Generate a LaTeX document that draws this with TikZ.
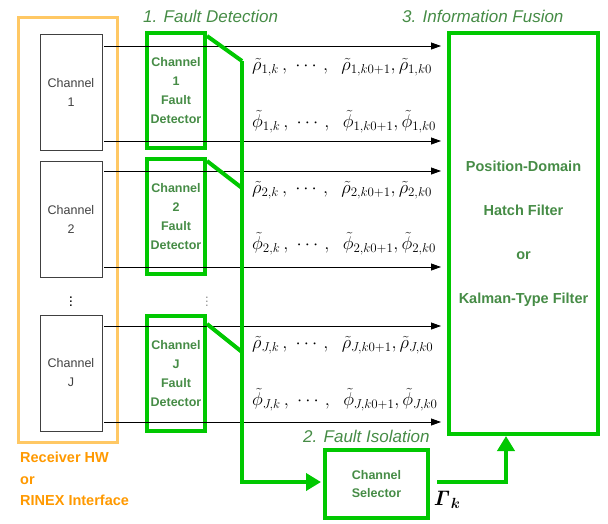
\RequirePackage{fix-cm}
\documentclass[tikz,border=0pt]{standalone}
\usepackage{amsmath}
\usepackage{amssymb}
\usepackage{bm}
\usepackage[no-math]{fontspec}
\setmainfont{Liberation Sans}
\usepackage{tikz}
\usetikzlibrary{arrows.meta,positioning}

\definecolor{boxgreen}{RGB}{0,200,0}
\definecolor{textgreen}{RGB}{70,140,70}
\definecolor{hwbox}{RGB}{255,200,100}
\definecolor{hwtext}{RGB}{255,153,0}
\definecolor{chanedge}{RGB}{64,64,64}

\begin{document}
\begin{tikzpicture}[
              x=1pt, y=-1pt,
              every node/.style={inner sep=0pt},
              chanbox/.style={draw=chanedge, line width=0.8pt, minimum width=62pt,
                minimum height=116pt, align=center, text=black!75,
                font=\fontsize{12.5}{19}\selectfont},
              detbox/.style={draw=boxgreen, line width=4pt, minimum width=58pt,
                minimum height=115pt, align=center, text=textgreen,
                font=\fontsize{12.5}{19}\selectfont\bfseries},
              stagelabel/.style={anchor=west, text=textgreen,
                font=\fontsize{17}{20}\selectfont\itshape},
              meas/.style={anchor=west, font=\fontsize{18.5}{20}\selectfont},
              sig/.style={line width=0.8pt, shorten >=6pt,
                -{Triangle[length=10pt,width=7pt]}},
              flag/.style={draw=boxgreen, line width=4pt},
              flagarrow/.style={flag, shorten >=2pt,
                -{Triangle[length=15pt,width=17pt]}}
            ]
            \useasboundingbox (0,0) rectangle (608,523);

            % Receiver hardware / RINEX side
            \node[draw=hwbox, line width=3pt, minimum width=99pt, minimum height=425pt] (hw) at (68,230) {};
            \node[anchor=north west, align=left, text=hwtext,
                  font=\fontsize{14.5}{21.5}\selectfont\bfseries] (hwlabel) at (20,452)
              {Receiver HW\\or\\RINEX Interface};

            \node[chanbox] (ch1) at (71,92) {Channel\\1};
            \node[chanbox] (ch2) at (71,219) {Channel\\2};
            \node[chanbox] (chJ) at (71,373) {Channel\\J};
            \node[font=\fontsize{15}{15}\selectfont] (chdots) at (71,299) {$\vdots$};

            % 1. fault detection per channel
            \node[stagelabel] (detlabel) at (143,16) {1. Fault Detection};
            \node[detbox] (det1) at (176,90.5) {Channel\\1\\Fault\\Detector};
            \node[detbox] (det2) at (176,216.5) {Channel\\2\\Fault\\Detector};
            \node[detbox] (detJ) at (176,373.5) {Channel\\J\\Fault\\Detector};
            \node[text=black!45, font=\fontsize{13}{13}\selectfont] (detdots) at (207,299) {$\vdots$};

            % 3. information fusion
            \node[stagelabel] (fuslabel) at (402,16) {3. Information Fusion};
            \node[draw=boxgreen, line width=4pt, minimum width=149pt, minimum height=401pt,
                  align=center, text=textgreen, font=\fontsize{14.5}{44}\selectfont\bfseries]
              (fusion) at (523.5,233.5)
              {Position-Domain\\Hatch Filter\\or\\Kalman-Type Filter};

            % 2. fault isolation
            \node[stagelabel] (isolabel) at (303,436) {2. Fault Isolation};
            \node[draw=boxgreen, line width=4pt, minimum width=103pt, minimum height=68pt,
                  align=center, text=textgreen, font=\fontsize{12.5}{18}\selectfont\bfseries]
              (selector) at (376.5,484) {Channel\\Selector};
            \node[font=\fontsize{21}{24}\selectfont] (gamma) at (447,500)
              {$\bm{\mathit{\Gamma}}_{\bm{k}}$};

            % code and carrier measurements into the filter
            \coordinate (s1a) at (104,46);
            \coordinate (s1b) at (104,141);
            \coordinate (s2a) at (104,171);
            \coordinate (s2b) at (104,267);
            \coordinate (sJa) at (104,326);
            \coordinate (sJb) at (104,422);
            \draw[sig] (s1a) -- (s1a -| fusion.west);
            \draw[sig] (s1b) -- (s1b -| fusion.west);
            \draw[sig] (s2a) -- (s2a -| fusion.west);
            \draw[sig] (s2b) -- (s2b -| fusion.west);
            \draw[sig] (sJa) -- (sJa -| fusion.west);
            \draw[sig] (sJb) -- (sJb -| fusion.west);

            \node[meas] (rho1) at (252,67)
              {$\tilde{\rho}_{1,k}\,,\ \cdots,\ \ \tilde{\rho}_{1,k0+1},\tilde{\rho}_{1,k0}$};
            \node[meas] (phi1) at (252,122)
              {$\tilde{\phi}_{1,k}\,,\ \cdots,\ \ \tilde{\phi}_{1,k0+1},\tilde{\phi}_{1,k0}$};
            \node[meas] (rho2) at (252,190)
              {$\tilde{\rho}_{2,k}\,,\ \cdots,\ \ \tilde{\rho}_{2,k0+1},\tilde{\rho}_{2,k0}$};
            \node[meas] (phi2) at (252,244)
              {$\tilde{\phi}_{2,k}\,,\ \cdots,\ \ \tilde{\phi}_{2,k0+1},\tilde{\phi}_{2,k0}$};
            \node[meas] (rhoJ) at (252,345)
              {$\tilde{\rho}_{J,k}\,,\ \cdots,\ \ \tilde{\rho}_{J,k0+1},\tilde{\rho}_{J,k0}$};
            \node[meas] (phiJ) at (252,400)
              {$\tilde{\phi}_{J,k}\,,\ \cdots,\ \ \tilde{\phi}_{J,k0+1},\tilde{\phi}_{J,k0}$};

            % fault flags collected on one bus to the selector
            \coordinate (bus1) at (242,61);
            \coordinate (bus2) at (242,188);
            \coordinate (busJ) at (242,352);
            \coordinate (busend) at (242,482);
            \draw[flag] ([yshift=-5pt]det1.north east) -- (bus1);
            \draw[flag] ([yshift=-4pt]det2.north east) -- (bus2);
            \draw[flag] ([yshift=-10pt]detJ.north east) -- (busJ);
            \draw[flagarrow] (bus1) -- (busend) -- (busend -| selector.west);

            % selected channels into the filter
            \coordinate (fusin) at (506,434);
            \draw[flagarrow] ([xshift=7pt]selector.east |- busend) -- (fusin |- busend) -- (fusin);

\end{tikzpicture}
\end{document}
